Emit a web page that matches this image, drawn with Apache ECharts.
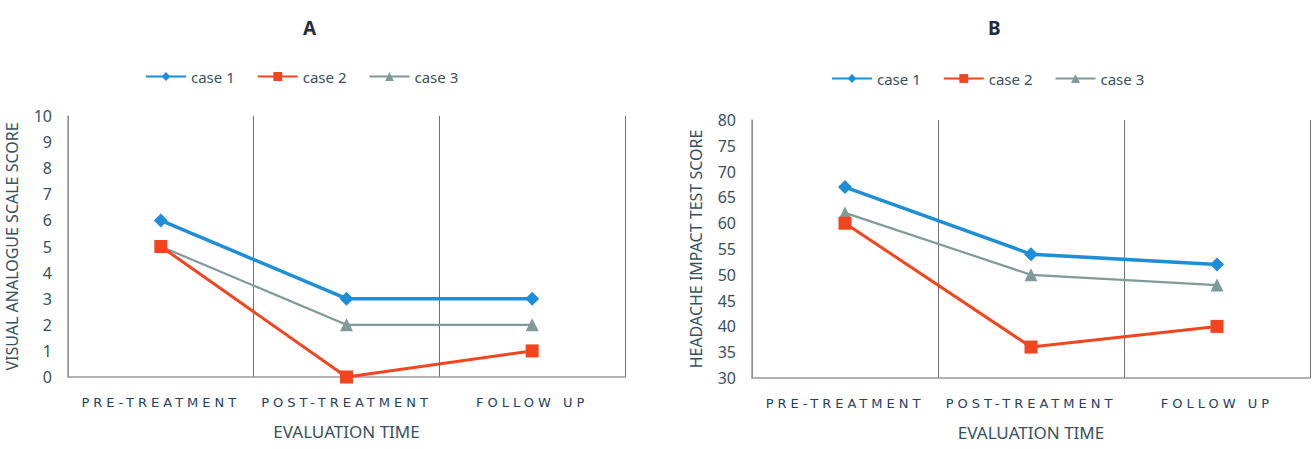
<!DOCTYPE html>
<html>
<head>
<meta charset="utf-8">
<script src="https://cdn.jsdelivr.net/npm/echarts@6/dist/echarts.min.js"></script>
<style>
html,body{margin:0;padding:0;background:#fff;}
#chart{width:1313px;height:449px;}
</style>
</head>
<body>
<div id="chart"></div>
<script>
// ---- data ----
const categories = ['PRE-TREATMENT', 'POST-TREATMENT', 'FOLLOW UP'];
const seriesNames = ['case 1', 'case 2', 'case 3'];
// Chart A: Visual Analogue Scale score
const vasCase1 = [6, 3, 3];
const vasCase2 = [5, 0, 1];
const vasCase3 = [5, 2, 2];
// Chart B: Headache Impact Test score
const hitCase1 = [67, 54, 52];
const hitCase2 = [60, 36, 40];
const hitCase3 = [62, 50, 48];

const colors = ['#1f8ed8', '#f2451f', '#7f9a9a'];
const symbols = ['diamond', 'rect', 'triangle'];
const symbolSizes = [14, 13, 13];
const lineWidths = [3.5, 3, 2.2];
const textColor = '#36515f';

function makeSeries(datas, gridIdx) {
  return datas.map((d, i) => ({
    name: seriesNames[i],
    type: 'line',
    xAxisIndex: gridIdx,
    yAxisIndex: gridIdx,
    data: d,
    symbol: symbols[i],
    symbolSize: symbolSizes[i],
    itemStyle: { color: colors[i] },
    lineStyle: { color: colors[i], width: lineWidths[i] },
    z: 10 - i
  }));
}

function xAxisDef(gridIdx) {
  return {
    type: 'category',
    gridIndex: gridIdx,
    data: categories,
    boundaryGap: true,
    axisLine: { show: true, lineStyle: { color: '#9a9a9a', width: 1.5 } },
    axisTick: { show: false },
    splitLine: { show: true, lineStyle: { color: '#707070', width: 1 } },
    axisLabel: { color: '#233f66', fontSize: 13, fontWeight: 'normal', fontFamily: 'DejaVu Sans', margin: 19 },
    name: 'EVALUATION TIME',
    nameLocation: 'middle',
    nameGap: 46,
    nameTextStyle: { color: textColor, fontSize: 17, fontFamily: 'Noto Sans' }
  };
}

function yAxisDef(gridIdx, min, max, interval, name, nameGap, nameSize) {
  return {
    type: 'value',
    gridIndex: gridIdx,
    min: min, max: max, interval: interval,
    axisLine: { show: true, lineStyle: { color: '#9a9a9a', width: 1.5 } },
    axisTick: { show: false },
    splitLine: { show: false },
    axisLabel: { color: textColor, fontSize: 16, fontFamily: 'Noto Sans', margin: 16 },
    name: name,
    nameLocation: 'middle',
    nameGap: nameGap,
    nameRotate: 90,
    nameTextStyle: { color: textColor, fontSize: nameSize, fontFamily: 'Noto Sans' }
  };
}

const chart = echarts.init(document.getElementById('chart'), null, { renderer: 'svg' });
const option = {
  animation: false,
  backgroundColor: '#ffffff',
  title: [
    { text: 'A', left: 298, top: 13, textStyle: { fontSize: 19, fontWeight: 'bold', color: '#1f2d3d', fontFamily: 'Noto Sans' } },
    { text: 'B', left: 983, top: 13, textStyle: { fontSize: 19, fontWeight: 'bold', color: '#1f2d3d', fontFamily: 'Noto Sans' } }
  ],
  legend: [
    { data: seriesNames, left: 140, top: 64, itemWidth: 40, itemHeight: 11, itemGap: 22,
      textStyle: { color: textColor, fontSize: 15, fontFamily: 'Noto Sans' } },
    { data: seriesNames, left: 826, top: 66, itemWidth: 40, itemHeight: 11, itemGap: 22,
      textStyle: { color: textColor, fontSize: 15, fontFamily: 'Noto Sans' } }
  ],
  grid: [
    { left: 68, right: 688, top: 116, bottom: 72, outerBoundsMode: 'none' },
    { left: 752, right: 3, top: 120, bottom: 71, outerBoundsMode: 'none' }
  ],
  xAxis: [xAxisDef(0), xAxisDef(1)],
  yAxis: [
    yAxisDef(0, 0, 10, 1, 'VISUAL ANALOGUE SCALE SCORE', 48, 16),
    yAxisDef(1, 30, 80, 5, 'HEADACHE IMPACT TEST SCORE', 48, 16)
  ],
  series: makeSeries([vasCase1, vasCase2, vasCase3], 0).concat(makeSeries([hitCase1, hitCase2, hitCase3], 1))
};
chart.setOption(option);

function spaceLabels() {
  document.querySelectorAll('#chart text').forEach(t => {
    if (categories.indexOf(t.textContent.trim()) >= 0) {
      t.style.letterSpacing = '4px';
    }
  });
}
chart.on('rendered', spaceLabels);
chart.on('finished', spaceLabels);
setTimeout(spaceLabels, 50);
</script>
</body>
</html>
